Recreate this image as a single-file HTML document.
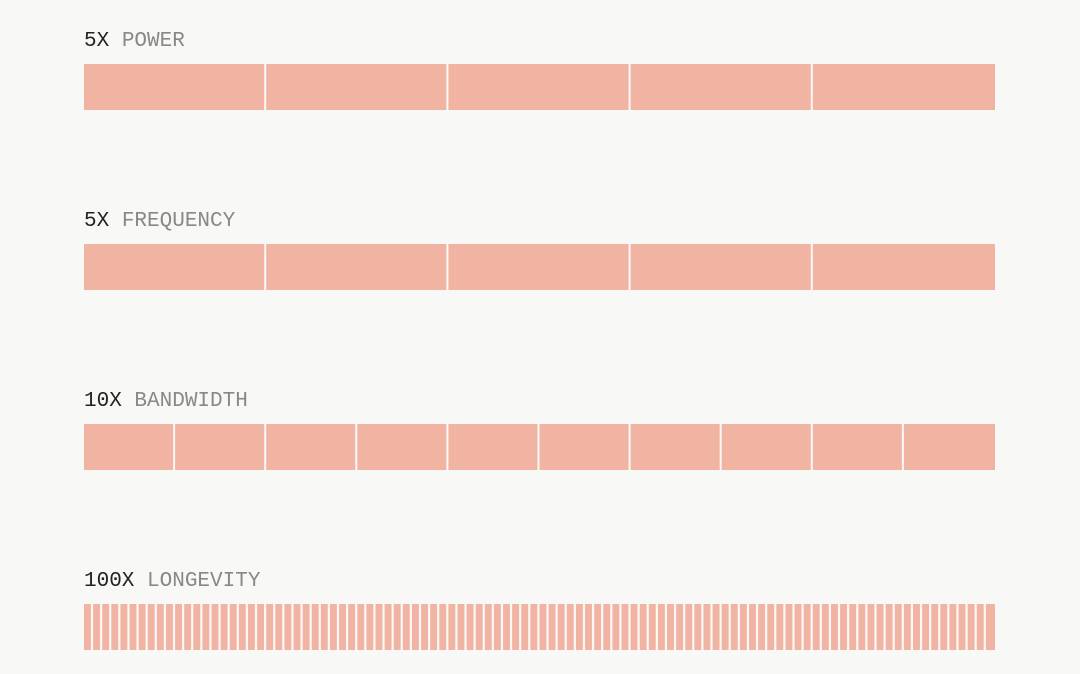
<!DOCTYPE html>
<html><head><meta charset="utf-8"><style>
html,body{margin:0;padding:0;background:#f8f8f7;width:1080px;height:674px;overflow:hidden}
svg{display:block}
text{font-family:"Liberation Mono","DejaVu Sans Mono",monospace;font-size:21px}
</style></head><body>
<svg id="chart" width="1080" height="674"></svg>
<script>
const labelsNum=["5X","5X","10X","100X"];
const labelsName=["POWER","FREQUENCY","BANDWIDTH","LONGEVITY"];
const segments=[5,5,10,100];
const NS="http://www.w3.org/2000/svg";
const svg=document.getElementById('chart');
const x0=84,x1=995,rowTop=64,rowStep=180,barH=46;
segments.forEach((n,i)=>{
  const g=document.createElementNS(NS,'g');
  
  
  svg.appendChild(g);
  const y=rowTop+i*rowStep;
  const t=document.createElementNS(NS,'text');
  
  
  t.setAttribute('x',x0);t.setAttribute('y',y-18);
  const a=document.createElementNS(NS,'tspan');a.setAttribute('fill','#222');a.textContent=labelsNum[i]+' ';
  const b=document.createElementNS(NS,'tspan');b.setAttribute('fill','#888');b.textContent=labelsName[i];
  t.appendChild(a);t.appendChild(b);g.appendChild(t);
  const w=(x1-x0)/n;
  const gap=n>20?2.2:2;
  for(let k=0;k<n;k++){
    const r=document.createElementNS(NS,'rect');
    
    
    r.setAttribute('x',x0+k*w);
    r.setAttribute('y',y);
    r.setAttribute('width',Math.max(0.5,w-(k<n-1?gap:0)));
    r.setAttribute('height',barH);
    r.setAttribute('fill','#f2b4a2');
    g.appendChild(r);
  }
});
</script>
</body></html>
